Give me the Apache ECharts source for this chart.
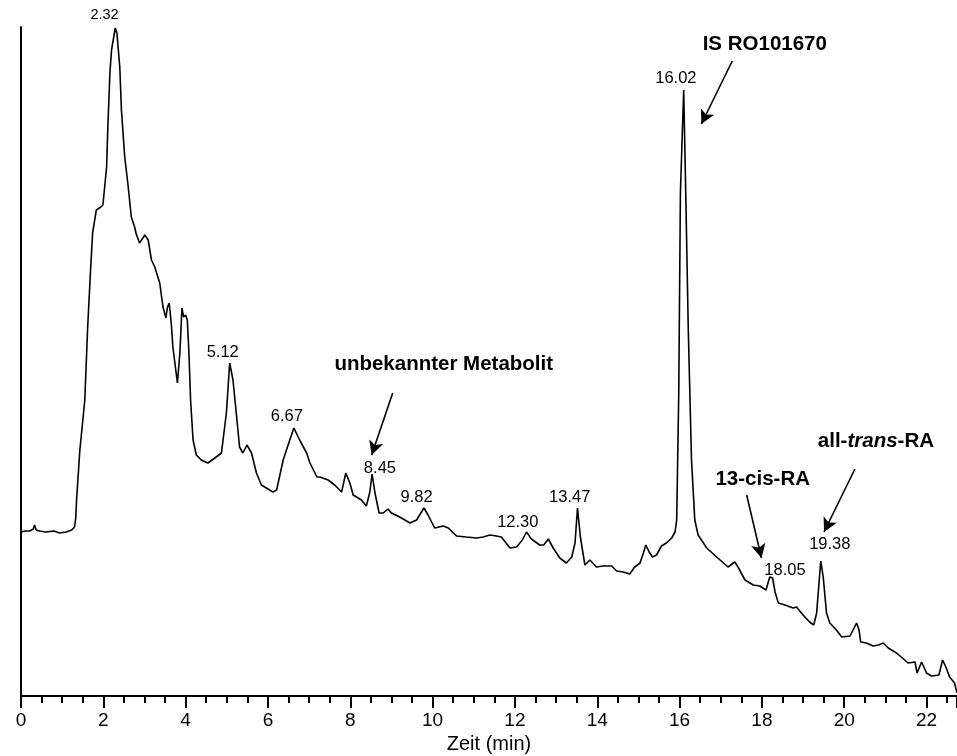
<!DOCTYPE html>
<html>
<head>
<meta charset="utf-8">
<script src="https://cdn.jsdelivr.net/npm/echarts@6/dist/echarts.min.js"></script>
<style>
html,body{margin:0;padding:0;background:#fff;}
#chart{width:957px;height:756px;}
</style>
</head>
<body>
<div id="chart"></div>
<script>
// Retention time (min) and detector signal (arbitrary units)
const times = [0.00,0.10,0.21,0.30,0.33,0.37,0.45,0.60,0.80,0.94,1.10,1.23,1.30,1.33,1.35,1.43,1.55,1.62,1.69,1.74,1.83,1.94,1.99,2.08,2.11,2.16,2.20,2.24,2.29,2.33,2.40,2.44,2.52,2.60,2.68,2.76,2.80,2.88,3.01,3.09,3.17,3.25,3.29,3.37,3.45,3.52,3.56,3.60,3.65,3.69,3.80,3.86,3.91,3.95,4.00,4.04,4.08,4.12,4.18,4.26,4.38,4.54,4.71,4.87,4.99,5.07,5.15,5.23,5.31,5.39,5.49,5.60,5.72,5.84,5.96,6.12,6.21,6.37,6.53,6.63,6.77,6.94,7.02,7.19,7.26,7.46,7.62,7.79,7.89,7.99,8.07,8.27,8.39,8.47,8.53,8.60,8.70,8.80,8.92,9.00,9.20,9.45,9.61,9.73,9.79,9.89,10.05,10.26,10.38,10.58,10.82,11.07,11.23,11.39,11.55,11.67,11.88,12.04,12.18,12.28,12.40,12.60,12.70,12.81,12.93,13.09,13.25,13.38,13.46,13.52,13.59,13.70,13.82,13.98,14.14,14.35,14.47,14.63,14.79,14.91,15.04,15.12,15.18,15.26,15.34,15.44,15.56,15.68,15.81,15.89,15.93,15.98,16.02,16.10,16.15,16.21,16.29,16.37,16.45,16.66,16.90,17.18,17.34,17.42,17.59,17.79,17.95,18.10,18.19,18.26,18.32,18.40,18.56,18.76,18.84,19.00,19.16,19.26,19.33,19.38,19.43,19.49,19.57,19.65,19.81,19.94,20.14,20.24,20.30,20.36,20.40,20.54,20.70,20.83,20.95,21.07,21.27,21.47,21.55,21.72,21.77,21.88,22.00,22.12,22.30,22.39,22.47,22.56,22.68,22.74];
const signal = [164,165,165,167,171,166,165,164,165,163,164,166,169,178,196,246,296,369,426,463,486,489,491,529,569,623,646,656,668,663,629,586,539,511,479,469,462,453,461,456,436,429,431,413,389,378,389,393,373,349,313,343,388,379,381,376,343,296,256,241,236,233,238,243,283,333,316,283,249,243,251,243,223,211,208,204,206,236,256,268,256,243,233,219,219,216,211,204,223,213,201,196,190,203,222,203,183,183,187,183,179,173,176,184,188,181,168,170,168,160,159,158,159,161,160,159,148,149,156,164,157,151,151,157,148,138,133,139,153,188,159,131,136,129,130,130,125,124,122,129,133,143,151,144,139,141,150,153,158,164,176,303,503,606,503,369,236,176,161,148,139,129,134,129,116,111,110,106,119,118,104,93,91,88,89,81,74,71,83,109,135,119,83,73,66,59,60,68,73,66,54,53,50,51,53,48,43,36,33,34,23,34,23,20,21,36,29,19,13,3];

// Peak retention-time labels (text, anchor time, anchor signal)
const peakLabelText  = ['2.32','5.12','6.67','8.45','9.82','12.30','13.47','16.02','18.05','19.38'];
const peakLabelTime  = [2.03, 4.90, 6.46, 8.72, 9.61, 12.07, 13.33, 15.91, 18.56, 19.65];
const peakLabelValue = [681, 344, 280, 228, 199, 174, 199, 618, 126, 152];

// Compound annotations
const annotationText  = ['IS RO101670', 'unbekannter Metabolit', '13-cis-RA', '{b|all-}{bi|trans}{b|-RA}'];
const annotationTime  = [18.07, 10.27, 18.02, 20.77];
const annotationValue = [652, 332, 217, 255];

// Arrows (from -> to) in data coordinates
const arrowFromTime  = [17.28, 9.03, 17.63, 20.26];
const arrowFromValue = [635, 303, 201, 227];
const arrowToTime    = [16.53, 8.52, 17.99, 19.51];
const arrowToValue   = [572, 241, 138, 164];

const xTicks = [0,2,4,6,8,10,12,14,16,18,20,22];

const FONT = '"Liberation Sans", Arial, sans-serif';

const chart = echarts.init(document.getElementById('chart'), null, {renderer:'canvas'});

const lineData = times.map((t,i)=>[t, signal[i]]);
const peakData = peakLabelText.map((s,i)=>({
  value:[peakLabelTime[i], peakLabelValue[i]],
  name:s,
  label:{fontSize: i===0 ? 14.5 : 16.5}
}));
const annData = annotationText.map((s,i)=>({value:[annotationTime[i], annotationValue[i]], name:s}));
const arrowData = arrowFromTime.map((t,i)=>[
  {coord:[t, arrowFromValue[i]]},
  {coord:[arrowToTime[i], arrowToValue[i]]}
]);

chart.setOption({
  animation:false,
  backgroundColor:'#fff',
  grid:{left:21, right:0, top:27, bottom:60, containLabel:false, outerBoundsMode:'none'},
  xAxis:{
    type:'value', min:0, max:22.74, interval:2,
    name:'Zeit (min)', nameLocation:'middle', nameGap:38,
    nameTextStyle:{fontFamily:FONT, fontSize:20, color:'#000'},
    axisLine:{show:true, onZero:false, lineStyle:{color:'#000', width:2}},
    axisTick:{show:true, length:12, lineStyle:{color:'#000', width:2}},
    minorTick:{show:true, splitNumber:4, length:7, lineStyle:{color:'#000', width:2}},
    axisLabel:{show:true, margin:15, fontFamily:FONT, fontSize:19, color:'#000',
      formatter:(v)=> xTicks.indexOf(v) >= 0 ? String(v) : ''},
    splitLine:{show:false}
  },
  yAxis:{
    type:'value', min:0, max:669,
    axisLine:{show:true, onZero:false, lineStyle:{color:'#000', width:2}},
    axisTick:{show:false}, axisLabel:{show:false}, splitLine:{show:false}
  },
  series:[
    {
      type:'line', data:lineData, symbol:'none', smooth:false, silent:true,
      lineStyle:{color:'#000', width:1.6},
      markLine:{
        silent:true, animation:false,
        symbol:['none','arrow'], symbolSize:[11,14],
        label:{show:false},
        lineStyle:{color:'#000', width:1.6, type:'solid'},
        emphasis:{disabled:true},
        data:arrowData
      }
    },
    {
      type:'scatter', data:peakData, symbol:'circle', symbolSize:1, clip:false, silent:true,
      itemStyle:{color:'rgba(0,0,0,0)'},
      label:{show:true, position:'inside', opacity:1, formatter:(p)=>p.name, fontFamily:FONT, color:'#000'}
    },
    {
      type:'scatter', data:annData, symbol:'circle', symbolSize:1, clip:false, silent:true,
      itemStyle:{color:'rgba(0,0,0,0)'},
      label:{show:true, position:'inside', opacity:1, formatter:(p)=>p.name,
        fontFamily:FONT, fontSize:20.5, fontWeight:'bold', color:'#000',
        rich:{
          b:{fontFamily:FONT, fontSize:20.5, fontWeight:'bold', color:'#000'},
          bi:{fontFamily:FONT, fontSize:20.5, fontWeight:'bold', fontStyle:'italic', color:'#000'}
        }
      }
    }
  ]
});
</script>
</body>
</html>
